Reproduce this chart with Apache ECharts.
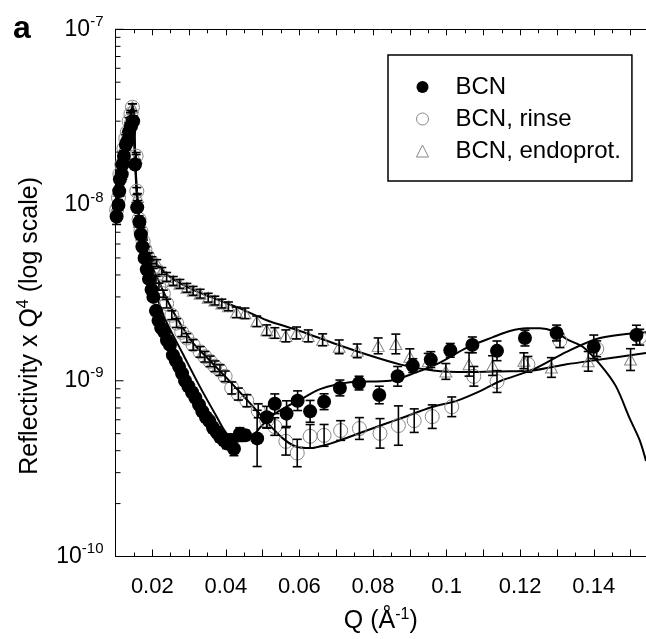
<!DOCTYPE html>
<html>
<head>
<meta charset="utf-8">
<script src="https://cdn.jsdelivr.net/npm/echarts@6/dist/echarts.min.js"></script>
<style>
  html, body { margin: 0; background: #fff; }
  #chart { width: 646px; height: 639px; }
</style>
</head>
<body>
<div id="chart"></div>
<script>
// reflectivity values are given in units of 1e-9, errors as half-width in decades
var UNIT = 1e-9;

var bcnQ = [0.0103,0.0108,0.0110,0.0112,0.0117,0.0119,0.0123,0.0128,0.0132,0.0137,0.0142,0.0148,
  0.0153,0.0159,0.0165,0.0169,0.0173,0.0179,0.0185,0.0191,0.0198,0.0203,
  0.0210,0.0217,0.0224,0.0232,0.0240,0.0248,0.0256,0.0264,0.0273,0.0281,
  0.0289,0.0298,0.0308,0.0317,0.0327,0.0336,0.0346,0.0355,0.0365,0.0375,
  0.0384,0.0394,0.0403,0.0413,0.0422,0.0438,0.0452,0.0485,
  0.0511,0.0533,0.0565,0.0595,0.0629,0.0667,0.0710,0.0762,0.0817,0.0867,
  0.0908,0.0957,0.1010,0.1070,0.1137,0.1213,0.1299,0.1400,0.1516];
var bcnR = [8.6,10,12,14,15,17,19,22,23,26,28,30,
  17,9.7,8.0,6.8,5.8,5.0,4.3,3.8,3.3,3.0,
  2.5,2.2,2.0,1.9,1.7,1.6,1.4,1.3,1.2,1.1,
  1.0,0.93,0.86,0.80,0.73,0.67,0.62,0.59,0.54,0.51,
  0.48,0.46,0.44,0.46,0.41,0.50,0.49,0.47,
  0.62,0.74,0.65,0.77,0.67,0.76,0.91,0.97,0.83,1.06,
  1.22,1.32,1.49,1.60,1.48,1.75,1.87,1.56,1.82];
var bcnErr = [0.045,0.03,0.03,0.03,0.03,0.03,0.03,0.03,0.03,0.03,0.03,0.03,
  0.02,0.02,0.02,0.02,0.02,0.02,0.02,0.02,0.02,0.02,
  0.02,0.02,0.02,0.02,0.02,0.02,0.02,0.02,0.02,0.02,
  0.02,0.02,0.02,0.02,0.025,0.025,0.025,0.025,0.03,0.03,
  0.03,0.03,0.03,0.034,0.039,0.034,0.03,0.16,
  0.062,0.056,0.073,0.056,0.062,0.045,0.045,0.039,0.05,0.056,
  0.039,0.045,0.039,0.045,0.056,0.045,0.045,0.067,0.056];

var rinseQ = [0.0103,0.0108,0.0112,0.0117,0.0123,0.0128,0.0132,0.0137,0.0142,0.0146,
  0.0156,0.0158,0.0164,0.0169,0.0175,0.0180,0.0187,0.0194,0.0202,0.0210,
  0.0218,0.0230,0.0239,0.0253,0.0266,0.0280,0.0294,0.0311,0.0330,0.0343,
  0.0357,0.0370,0.0384,0.0398,0.0416,0.0434,0.0457,0.0488,0.0511,0.0533,
  0.0563,0.0594,0.0629,0.0667,0.0712,0.0763,0.0819,0.0869,0.0912,0.0961,
  0.1014,0.1074,0.1137,0.1221,0.1308,0.1408,0.1525];
var rinseR = [9.4,11,15,17,21,24,26,30,33,36,
  19,12,8.3,7.1,6.2,5.6,5.1,4.67,4.16,3.75,
  3.43,3.13,2.75,2.36,2.13,1.89,1.75,1.60,1.46,1.37,
  1.29,1.21,1.15,1.06,0.91,0.84,0.77,0.675,0.593,0.549,
  0.452,0.388,0.483,0.489,0.521,0.535,0.502,0.556,0.593,0.625,
  0.711,1.06,0.99,1.24,1.69,1.52,1.77];
var rinseErr = [0.02,0.02,0.02,0.02,0.02,0.02,0.02,0.02,0.02,0.02,
  0.02,0.02,0.02,0.02,0.02,0.02,0.02,0.02,0.02,0.02,
  0.02,0.02,0.025,0.025,0.025,0.025,0.025,0.03,0.03,0.03,
  0.03,0.03,0.03,0.03,0.034,0.034,0.034,0.04,0.04,0.05,
  0.078,0.078,0.067,0.062,0.056,0.062,0.084,0.112,0.067,0.067,
  0.056,0.056,0.062,0.045,0.039,0.045,0.045];

var endoQ = [0.0105,0.0110,0.0115,0.0121,0.0126,0.0131,0.0136,0.0141,0.0146,
  0.0156,0.0160,0.0165,0.0171,0.0176,0.0183,0.0191,0.0199,0.0212,0.0226,
  0.0239,0.0257,0.0275,0.0294,0.0311,0.0330,0.0352,0.0370,0.0389,0.0407,
  0.0429,0.0452,0.0484,0.0511,0.0533,0.0563,0.0592,0.0624,0.0663,0.0708,
  0.0757,0.0814,0.0862,0.0900,0.0950,0.0998,0.1061,0.1125,0.1210,0.1285,
  0.1385,0.1500];
var endoR = [10,12,15,18,22,25,28,32,36,
  18.5,11.1,8.0,6.8,6.04,5.52,5.1,4.85,4.67,4.21,
  3.90,3.70,3.56,3.38,3.25,3.13,2.97,2.86,2.75,2.65,
  2.45,2.42,2.18,1.94,1.87,1.80,1.87,1.80,1.71,1.56,
  1.48,1.58,1.62,1.37,1.29,1.13,1.24,1.22,1.30,1.19,
  1.29,1.32];
var endoErr = [0.02,0.02,0.02,0.02,0.02,0.02,0.02,0.02,0.02,
  0.02,0.02,0.02,0.02,0.02,0.02,0.02,0.02,0.02,0.02,
  0.025,0.025,0.025,0.025,0.025,0.025,0.025,0.025,0.025,0.025,
  0.03,0.03,0.03,0.03,0.03,0.034,0.034,0.034,0.034,0.039,
  0.039,0.045,0.056,0.045,0.045,0.045,0.067,0.056,0.045,0.056,
  0.056,0.062];

// model fits (solid lines)
var fitBcnQ = [0.0101,0.0112,0.0123,0.0134,0.0142,0.0146,0.0150,0.0156,0.0164,0.0175,
  0.0194,0.0216,0.0239,0.0284,0.0330,0.0375,0.0402,0.0438,0.0466,0.0498,
  0.0533,0.0569,0.0601,0.0656,0.0737,0.0846,0.0919,0.0982,0.1054,0.1126,
  0.1172,0.1217,0.1254,0.1289,0.1330,0.1370,0.1417,0.1460,0.1498,0.1525,0.1542];
var fitBcnR = [9.1,13.4,19,26.6,32.7,34.4,24,13.4,8.55,6.2,
  4.1,2.86,2.15,1.41,0.92,0.625,0.502,0.452,0.47,0.556,
  0.649,0.72,0.778,0.896,0.981,1.0,1.12,1.27,1.54,1.77,
  1.92,1.99,1.99,1.92,1.71,1.56,1.24,0.932,0.609,0.458,0.35];
var fitRinseQ = [0.0101,0.0123,0.0142,0.0148,0.0153,0.0158,0.0167,0.0180,0.0199,0.0221,
  0.0248,0.0275,0.0311,0.0357,0.0398,0.0438,0.0484,0.0520,0.0555,0.0588,
  0.0629,0.0669,0.0710,0.0783,0.0873,0.0963,0.1027,0.1091,0.1145,0.1235,
  0.1326,0.1417,0.1542];
var fitRinseR = [9.5,20.6,34.4,36.3,21.1,11.8,7.72,5.81,4.49,3.56,
  2.68,2.13,1.64,1.30,1.06,0.862,0.675,0.556,0.470,0.424,
  0.414,0.43,0.458,0.521,0.609,0.711,0.768,0.873,0.994,1.16,
  1.46,1.75,1.89];
var fitEndoQ = [0.0101,0.0123,0.0142,0.0148,0.0153,0.0158,0.0166,0.0180,0.0194,0.0212,
  0.0248,0.0289,0.0330,0.0384,0.0438,0.0511,0.0601,0.0691,0.0783,0.0873,
  0.0963,0.1054,0.1145,0.1235,0.1326,0.1417,0.1542];
var fitEndoR = [9.5,20.6,34.4,36.3,21.1,11.8,8.0,5.96,5.1,4.61,
  3.90,3.47,3.17,2.86,2.58,2.21,1.92,1.64,1.41,1.24,
  1.145,1.12,1.13,1.145,1.24,1.32,1.44];

var xMin = 0.01, xMax = 0.1542;
var yMajorTicks = [1e-10, 1e-9, 1e-8, 1e-7];
var yMinorTicks = [];
[1e-10, 1e-9, 1e-8].forEach(function (d) {
  [2,3,4,5,6,7,8,9].forEach(function (m) { yMinorTicks.push(m * d); });
});

var FONT = '"Liberation Sans", Arial, sans-serif';

function pts(q, r) {
  return q.map(function (x, i) { return [x, r[i] * UNIT]; });
}
function bars(q, r, e) {
  return q.map(function (x, i) {
    return [x, r[i] * UNIT * Math.pow(10, -e[i]), r[i] * UNIT * Math.pow(10, e[i])];
  });
}

function renderBar(params, api) {
  var a = api.coord([api.value(0), api.value(2)]);
  var b = api.coord([api.value(0), api.value(1)]);
  var w = 4.5;
  var st = { stroke: '#000', lineWidth: 1.6 };
  return { type: 'group', children: [
    { type: 'line', shape: { x1: a[0], y1: a[1], x2: b[0], y2: b[1] }, style: st },
    { type: 'line', shape: { x1: a[0] - w, y1: a[1], x2: a[0] + w, y2: a[1] }, style: st },
    { type: 'line', shape: { x1: b[0] - w, y1: b[1], x2: b[0] + w, y2: b[1] }, style: st }
  ]};
}
function tickRenderer(len) {
  return function (params, api) {
    var p = api.coord([api.value(0), api.value(1)]);
    return { type: 'line', shape: { x1: p[0], y1: p[1], x2: p[0] + len, y2: p[1] },
      style: { stroke: '#000', lineWidth: 1 } };
  };
}

var chart = echarts.init(document.getElementById('chart'));

var fitLine = function (q, r) {
  return { type: 'line', data: pts(q, r), showSymbol: false, smooth: 0.3,
    lineStyle: { color: '#000', width: 2 }, z: 2, silent: true };
};

var option = {
  animation: false,
  grid: { left: 115.5, right: 0, top: 29.3, bottom: 74 },
  graphic: [{ type: 'text', x: 13, y: 29,
    style: { text: 'a', font: 'bold 32px ' + FONT, fill: '#000', verticalAlign: 'middle' } }],
  legend: {
    orient: 'vertical', left: 388, top: 55,
    itemWidth: 12, itemHeight: 12, itemGap: 8,
    padding: [20, 11, 18, 28],
    borderColor: '#000', borderWidth: 1.5,
    textStyle: { fontSize: 24, fontFamily: FONT, color: '#000', lineHeight: 20, padding: [0, 0, 0, 22] },
    data: [
      { name: 'BCN', icon: 'circle', itemStyle: { color: '#000' } },
      { name: 'BCN, rinse', icon: 'circle', itemStyle: { color: '#fff', borderColor: '#888', borderWidth: 1 } },
      { name: 'BCN, endoprot.', icon: 'triangle', itemStyle: { color: '#fff', borderColor: '#888', borderWidth: 1 } }
    ]
  },
  xAxis: [{
    type: 'value', min: xMin, max: xMax, interval: 0.01,
    name: '{t|Q (Å}{s|-1}{t|)}', nameLocation: 'middle', nameGap: 50,
    nameTextStyle: { rich: {
      t: { fontSize: 25, fontFamily: FONT, color: '#000', lineHeight: 30 },
      s: { fontSize: 16, fontFamily: FONT, color: '#000', verticalAlign: 'top', lineHeight: 16 } } },
    axisLine: { lineStyle: { color: '#000', width: 1 } },
    axisTick: { inside: true, length: 7, lineStyle: { color: '#000' } },
    minorTick: { show: true, splitNumber: 2, length: 4, lineStyle: { color: '#000' } },
    splitLine: { show: false },
    axisLabel: { margin: 19, fontSize: 22, fontFamily: FONT, color: '#000', showMaxLabel: false, showMinLabel: false,
      formatter: function (v) { return Math.round(v * 100) % 2 === 0 ? String(+v.toFixed(3)) : ''; } }
  }, {
    type: 'value', min: xMin, max: xMax, interval: 0.01, position: 'top',
    axisLine: { lineStyle: { color: '#000', width: 1 } },
    axisTick: { inside: true, length: 6, lineStyle: { color: '#000' } },
    minorTick: { show: true, splitNumber: 2, length: 4, lineStyle: { color: '#000' } },
    splitLine: { show: false }, axisLabel: { show: false }
  }],
  yAxis: {
    type: 'log', logBase: 10, min: 1e-10, max: 1e-7,
    name: '{t|Reflectivity x Q}{s|4}{t| (log scale)}', nameLocation: 'middle', nameGap: 70, nameRotate: 90,
    nameTextStyle: { padding: [0, 66, 0, 0], rich: {
      t: { fontSize: 25, fontFamily: FONT, color: '#000', lineHeight: 30 },
      s: { fontSize: 16, fontFamily: FONT, color: '#000', verticalAlign: 'top', lineHeight: 16 } } },
    axisLine: { show: true, lineStyle: { color: '#000', width: 1 } },
    axisTick: { show: false }, splitLine: { show: false },
    axisLabel: { margin: 12, formatter: function (v) {
        return '{b|10}{s|' + Math.round(Math.log10(v)) + '}';
      },
      rich: {
        b: { fontSize: 23, fontFamily: FONT, color: '#000', lineHeight: 30 },
        s: { fontSize: 15, fontFamily: FONT, color: '#000', verticalAlign: 'top', lineHeight: 16 } } }
  },
  series: [
    fitLine(fitBcnQ, fitBcnR),
    fitLine(fitRinseQ, fitRinseR),
    fitLine(fitEndoQ, fitEndoR),
    { name: 'BCN, endoprot.', type: 'scatter', data: pts(endoQ, endoR), symbol: 'triangle', symbolSize: [12, 11],
      itemStyle: { color: 'rgba(255,255,255,0)', borderColor: '#888', borderWidth: 1, opacity: 1 }, z: 3 },
    { name: 'BCN, rinse', type: 'scatter', data: pts(rinseQ, rinseR), symbol: 'circle', symbolSize: 14,
      itemStyle: { color: 'rgba(255,255,255,0)', borderColor: '#888', borderWidth: 1, opacity: 1 }, z: 3 },
    { name: 'BCN', type: 'scatter', data: pts(bcnQ, bcnR), symbol: 'circle', symbolSize: 14,
      itemStyle: { color: '#000', opacity: 1 }, z: 4 },
    { type: 'custom', data: bars(endoQ, endoR, endoErr), renderItem: renderBar, encode: { x: 0, y: [1, 2] }, z: 5, silent: true },
    { type: 'custom', data: bars(rinseQ, rinseR, rinseErr), renderItem: renderBar, encode: { x: 0, y: [1, 2] }, z: 5, silent: true },
    { type: 'custom', data: bars(bcnQ, bcnR, bcnErr), renderItem: renderBar, encode: { x: 0, y: [1, 2] }, z: 5, silent: true },
    { type: 'custom', data: yMajorTicks.map(function (v) { return [xMin, v]; }), renderItem: tickRenderer(8),
      encode: { x: 0, y: 1 }, z: 6, silent: true },
    { type: 'custom', data: yMinorTicks.map(function (v) { return [xMin, v]; }), renderItem: tickRenderer(5),
      encode: { x: 0, y: 1 }, z: 6, silent: true }
  ]
};

chart.setOption(option);
</script>
</body>
</html>
